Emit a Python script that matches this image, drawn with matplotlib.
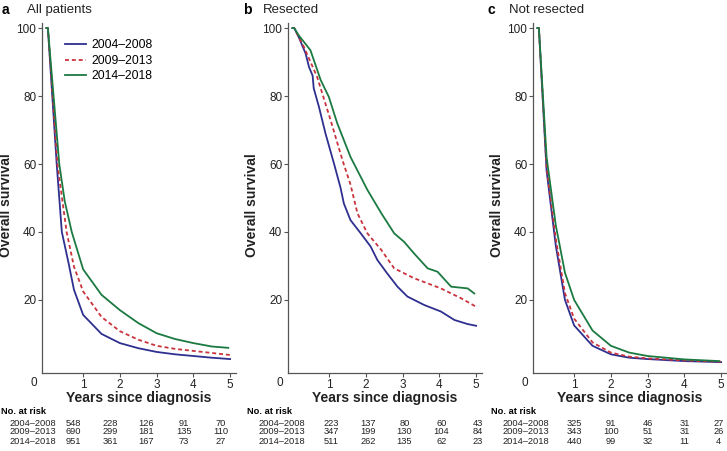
import matplotlib.pyplot as plt
import matplotlib.transforms as mtransforms

plt.rcParams['font.family'] = ['Liberation Sans', 'DejaVu Sans']

# survival curves (years, %)
a_blue_t = [0, 0.04, 0.28, 0.42, 0.6, 0.75, 1, 1.5, 2, 2.5, 3, 3.5, 4, 4.5, 5]
a_blue_s = [100, 100, 60, 40, 31, 23, 15.6, 10, 7.3, 5.8, 4.7, 4, 3.5, 3, 2.6]
a_red_t = [0, 0.04, 0.3, 0.55, 0.75, 1, 1.5, 2, 2.5, 3, 3.5, 4, 4.5, 5]
a_red_s = [100, 100, 60, 40, 29.8, 22.5, 15, 10.8, 8.3, 6.5, 5.6, 5, 4.4, 3.8]
a_green_t = [0, 0.04, 0.35, 0.5, 0.69, 1, 1.5, 2, 2.5, 3, 3.5, 4, 4.5, 4.95]
a_green_s = [100, 100, 60, 49, 40, 29, 21.5, 17, 13.2, 10.2, 8.5, 7.3, 6.3, 5.9]

b_blue_t = [0, 0.05, 0.17, 0.36, 0.45, 0.55, 0.58, 0.72, 0.9, 1.13, 1.31, 1.4, 1.58, 1.86,
            2.13, 2.31, 2.58, 2.86, 3.13, 3.59, 4.04, 4.41, 4.77, 5.0]
b_blue_s = [100, 100, 97.4, 92.5, 88.6, 86, 82.3, 76.9, 69, 60.2, 53, 48.4, 43.5, 39.6,
            35.7, 31.8, 27.8, 23.9, 21, 18.5, 16.6, 14.1, 12.9, 12.4]
b_red_t = [0, 0.05, 0.31, 0.67, 1.04, 1.36, 1.58, 1.77, 2.04, 2.42, 2.77, 3.31, 4.04, 4.59, 5.0]
b_red_s = [100, 100, 94.5, 85.7, 72.9, 61.2, 54, 45.5, 39.6, 34.7, 29.3, 26.4, 23.4, 20.5, 18]
b_green_t = [0, 0.05, 0.17, 0.49, 0.77, 0.99, 1.22, 1.58, 2.04, 2.42, 2.77, 3.04, 3.31, 3.68,
             3.95, 4.32, 4.77, 4.95]
b_green_s = [100, 100, 97.9, 93.5, 84.7, 79.8, 72, 62.1, 52.4, 45.5, 39.6, 37.1, 33.7, 29.3,
             28.3, 23.9, 23.4, 21.9]

c_blue_t = [0, 0.04, 0.25, 0.5, 0.75, 1, 1.5, 2, 2.5, 3, 4, 5]
c_blue_s = [100, 100, 58, 36, 20, 12.5, 6.5, 4, 3, 2.6, 2, 1.7]
c_red_t = [0, 0.04, 0.25, 0.5, 0.75, 1, 1.5, 2, 2.5, 3, 4, 5]
c_red_s = [100, 100, 59, 38, 22, 14.5, 7.5, 4.5, 3.3, 2.8, 2.2, 1.8]
c_green_t = [0, 0.04, 0.25, 0.5, 0.75, 1, 1.5, 2, 2.5, 3, 4, 4.95]
c_green_s = [100, 100, 62, 42, 28, 20, 11, 6.5, 4.5, 3.5, 2.5, 2]

periods = ['2004\u20132008', '2009\u20132013', '2014\u20132018']
panel_letters = ['a', 'b', 'c']
panel_titles = ['All patients', 'Resected', 'Not resected']

# numbers at risk at years 1..5
risk_a = [[548, 228, 126, 91, 70], [690, 299, 181, 135, 110], [951, 361, 167, 73, 27]]
risk_b = [[223, 137, 80, 60, 43], [347, 199, 130, 104, 84], [511, 262, 135, 62, 23]]
risk_c = [[325, 91, 46, 31, 27], [343, 100, 51, 31, 26], [440, 99, 32, 11, 4]]

curves = [
    [(a_blue_t, a_blue_s), (a_red_t, a_red_s), (a_green_t, a_green_s)],
    [(b_blue_t, b_blue_s), (b_red_t, b_red_s), (b_green_t, b_green_s)],
    [(c_blue_t, c_blue_s), (c_red_t, c_red_s), (c_green_t, c_green_s)],
]
risks = [risk_a, risk_b, risk_c]

colors = ['#2e2f8f', '#c9333d', '#1b7a41']
styles = ['-', (0, (2.2, 1.6)), '-']

W, H = 727, 451
fig = plt.figure(figsize=(W / 100, H / 100), dpi=100)

lefts = [42, 288, 533]
letter_x = [2, 243, 487]
title_x = [27, 263, 509]
# column centres of the risk table, in years
col_x = [
    [0.73, 1.73, 2.72, 3.74, 4.75],
    [1.05, 2.05, 3.05, 4.05, 5.05],
    [1.0, 2.0, 3.0, 4.0, 4.92],
]
lab_x = [-1.0, -0.93, -0.96]
head_x = [-1.24, -1.23, -1.26]

for i in range(3):
    ax = fig.add_axes([lefts[i] / W, (H - 373) / H, 194 / W, 350 / H])
    for j in range(3):
        t, s = curves[i][j]
        ax.plot(t, s, color=colors[j], linestyle=styles[j], lw=1.3, label=periods[j])
    ax.set_xlim(-0.12, 5.16)
    ax.set_ylim(-1.5, 101.5)
    ax.set_xticks([1, 2, 3, 4, 5])
    ax.set_yticks([20, 40, 60, 80, 100])
    for sp in ['top', 'right']:
        ax.spines[sp].set_visible(False)
    for sp in ['left', 'bottom']:
        ax.spines[sp].set_color('#555555')
        ax.spines[sp].set_linewidth(0.9)
    ax.tick_params(axis='both', colors='#555555', labelcolor='#222222', labelsize=8.5,
                   length=3.2, width=0.8, pad=1.0)
    ax.set_ylabel('Overall survival', fontsize=10, fontweight='bold', color='#222222')
    ax.yaxis.set_label_coords(-0.15, 0.48)
    ax.set_xlabel('Years since diagnosis', fontsize=10, fontweight='bold', color='#222222')
    ax.xaxis.set_label_coords(0.5, -0.052)

    tr = mtransforms.blended_transform_factory(ax.transData, fig.transFigure)
    # corner zero
    ax.text(-0.35, 1 - 383 / H, '0', transform=tr, fontsize=8.5, color='#222222',
            ha='center', va='center')

    # panel title
    fig.text(letter_x[i] / W, 1 - 10 / H, panel_letters[i], fontsize=10,
             fontweight='bold', va='center')
    fig.text(title_x[i] / W, 1 - 10 / H, panel_titles[i], fontsize=9.5,
             va='center', color='#222222')

    # number at risk table
    ax.text(head_x[i], 1 - 411 / H, 'No. at risk', transform=tr, fontsize=6.7,
            fontweight='bold', va='center', ha='left')
    row_y = [423, 432, 441]
    for j in range(3):
        ax.text(lab_x[i], 1 - row_y[j] / H, periods[j], transform=tr, fontsize=6.7,
                va='center', ha='left', color='#222222')
        for k in range(5):
            ax.text(col_x[i][k], 1 - row_y[j] / H, str(risks[i][j][k]),
                    transform=tr, fontsize=6.7, va='center', ha='center', color='#222222')

    if i == 0:
        ax.legend(loc='upper left', bbox_to_anchor=(0.06, 0.985), frameon=False,
                  fontsize=8.7, handlelength=1.8, handletextpad=0.45, labelspacing=0.3)

fig.savefig('out.png', dpi=100)
